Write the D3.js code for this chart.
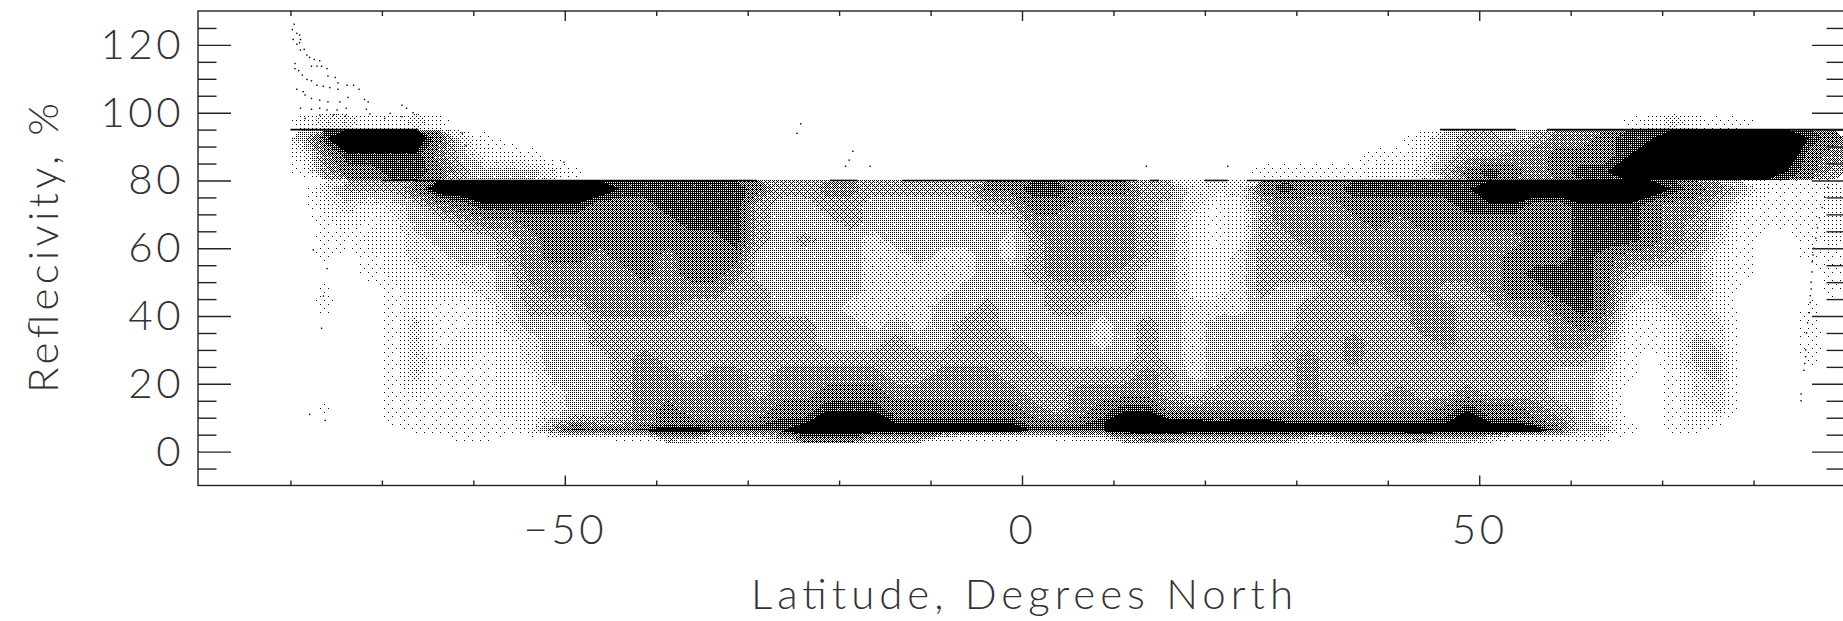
<!DOCTYPE html>
<html><head><meta charset="utf-8">
<style>
html,body{margin:0;padding:0;background:#fff;overflow:hidden}
svg{display:block}
text{font-family:"Lato","Open Sans",sans-serif;font-weight:300;fill:#333}
</style>
<script src="https://cdn.jsdelivr.net/npm/d3@7"></script>
</head><body>
<svg id="c" width="1843" height="621"></svg>
<script>
// Axis ticks and titles
const xMajor = [-50, 0, 50];
const xMinor = [-80, -70, -60, -40, -30, -20, -10, 10, 20, 30, 40, 60, 70, 80];
const yMajor = [0, 20, 40, 60, 80, 100, 120];
const yMinor = [-5, 5, 10, 15, 25, 30, 35, 45, 50, 55, 65, 70, 75, 85, 90, 95, 105, 110, 115, 125];
const xTitle = "Latitude, Degrees North";
const yTitle = "Reflecivity, %";

// The scatter holds far too many dots to transcribe, so its body is read off as
// a density table: one row per reflectivity band (lowest first), one digit per
// 2.5 degree latitude cell from -80 to 90 (0 = empty ... 9 = solid), grouped by 10 degrees.
const latStart = -80, latStep = 2.5;
const bandEdges = [2.5, 5, 7.5, 10, 15, 20, 25, 30, 35, 40, 45, 50, 55, 60, 65, 70, 75, 80, 85, 90, 95, 100];
const densityRows = [
/* 2.5-5  */ "0000 0001 1000 0011 5433 3477 7555 2111 0122 5665 5555 3355 5644 3111 1100 0000 0000",
/* 5-7.5  */ "0000 0111 1126 8778 9988 8899 9999 9999 8888 9999 9999 9999 9999 9997 4410 1100 0000",
/* 7.5-10 */ "0000 1111 1124 6556 7777 7889 9988 8888 7778 9999 8998 8888 8889 8876 4310 1210 0000",
/* 10-15  */ "0100 1111 1223 4456 7666 6778 8877 7777 6567 8866 6666 6666 6678 7765 4300 1230 0000",
/* 15-20  */ "0000 1211 1223 4456 6666 5667 7766 6666 5566 6654 5555 6555 6556 5554 4300 1330 0000",
/* 20-25  */ "0000 1311 1224 4456 6566 5666 6655 6665 5555 5653 4555 6555 5555 5554 4310 1340 0000",
/* 25-30  */ "0000 1322 1234 4456 5555 5555 5555 5555 5444 4543 4445 6565 5555 5555 5410 2440 0010",
/* 30-35  */ "0000 1312 2234 4555 5555 5554 4454 4555 4443 4543 4445 5565 5565 5556 6511 2430 0010",
/* 35-40  */ "0000 1311 2344 4555 5555 5554 4343 4554 4443 4543 4444 5555 5665 5556 7621 2330 0010",
/* 40-45  */ "0100 1211 2355 5666 6555 5444 3333 4454 4554 4443 3344 5555 5665 5667 8732 3320 0010",
/* 45-50  */ "0100 1222 3456 6666 6665 5444 4333 3444 4555 5442 2354 4555 6655 6778 8743 4420 0001",
/* 50-55  */ "0001 2233 3466 6667 6776 4444 4333 3344 5666 5442 2355 5566 6666 6788 8754 4421 0001",
/* 55-60  */ "0101 2334 4567 7677 6777 4444 4334 3343 5666 6542 2355 5666 6666 6777 8766 5421 0011",
/* 60-65  */ "0112 2344 4567 7777 7778 5454 4344 4443 5666 6542 1255 6666 6666 6677 8887 6531 0012",
/* 65-70  */ "0121 2445 6677 7777 7888 5444 5444 4444 6666 6542 1256 6667 6777 7777 8887 6541 1112",
/* 70-75  */ "0232 3467 8888 8777 8888 5445 5444 4455 7766 6543 1256 6677 7778 8877 8887 6642 1112",
/* 75-80  */ "0355 5799 9999 9988 8888 7556 6555 5577 8877 7553 3378 7788 8888 9999 9999 8764 2112",
/* 80-85  */ "1577 8875 4443 1000 0000 0000 0000 0000 0000 0000 0011 1112 2357 8767 8899 9999 9875",
/* 85-90  */ "2688 8864 2210 0000 0000 0000 0000 0000 0000 0000 0000 0001 1245 5667 7789 9999 9976",
/* 90-95  */ "4899 9973 1000 0000 0000 0000 0000 0000 0000 0000 0000 0000 0245 5456 6788 9999 9987",
/* 95-100 */ "2332 2320 0000 0000 0000 0000 0000 0000 0000 0000 0000 0000 0000 0000 0012 3211 0000"
];
// Rows that end on a hard clip (80 % and 95 %) are contoured apart so the edge stays sharp
const rowGroups = [[0, 17], [17, 20], [20, 21]];
const levelFraction = [0, .025, .06, .13, .24, .34, .45, .56, .74, 1];
const levelThreshold = [.5, 1.5, 2.5, 3.5, 4.5, 5.5, 6.5, 7.5, 8.1];

// Individually legible dots: the polar arcs above 95 %
const polarLat = [-79.6,-79.8,-79.3,-79,-79.7,-78.9,-79,-79.3,-78.9,-78.5,-78.2,-77.9,-77.4,-76.8,-77.7,-77.1,-76.6,-76,-79.5,-79.5,-79.1,-78.7,-78.2,-77.7,-77.1,-76.4,-75.7,-74.8,-73.8,-73.1,-72.5,-75.9,-75.1,-74.8,-78.6,-79.3,-78.4,-77.7,-76.8,-75.9,-74.6,-73.7,-71.9,-71.5,-71.7,-71.3,-67.8,-67.3,-66.6,-78.9,-77.7,-76.8,-76,-74.9,-73.9,-78.4,-76.8,-75.3,-74,-69.1,-67.8,-69.7];
const polarRef = [126.1,124.5,123.4,122.9,121.6,121.6,120.6,120.2,118.5,118.7,117,116.3,115.7,115.3,113.7,113.7,113.7,113,114.5,113,112.4,111.1,109.8,109.4,108.1,107.8,107.4,106.9,108.1,108.1,106.9,110.8,110.4,108.8,106.2,106.9,105.2,104.2,103.7,103.2,103.2,104.5,103.9,103.2,101,99.6,102.2,101.3,100,101.3,101,101.3,100.8,100.8,101.3,98.3,99.3,99.3,99,99.8,98.8,98.3];
// Isolated outliers
const strayLat = [-24.2,-24.6,-18.5,-18.9,-19.3,-16.6,13.6,22.5,-61.2,-60.8,-50.1,-76.4,-76.6,-77.9,-76.2,-77.5,-76];
const strayRef = [96.7,93.9,88.6,86,84.2,84.2,84.2,84.2,94,90.4,85.4,45.9,36.4,11,9.2,59.5,54];
// The thin arc near the right edge
const arcLat = [88.1,87.8,87.5,87.2,87,86.8,86.6,86.5,86.4,86.4,86.3,86.3,86.2,86.2,86.1,85.9,85.8,85.7,85.7,85.6,85.5,85.2,85.2];
const arcRef = [78,75,72,69,66,63,60,58,56,53,50,48,46,44,41,38,35,30,28,26,24,17,15];
// Saturated runs where the dots merge into a solid line: [from, to] latitude
const cap80 = [[-70,-29],[-21,-18],[-13.1,12.6],[14,15],[20,22.5],[24.6,65]];
const cap95 = [[-80,-66],[45.7,54],[57.4,90]];

const left = 198, top_ = 11, bottom = 485.5;
const x = d3.scaleLinear().domain([-90, 90]).range([199, 1845]);
const y = d3.scaleLinear().domain([-10, 130]).range([bottom, top_]);
const rowToRef = d3.scaleLinear().domain(bandEdges.map((_, i) => i)).range(bandEdges);
const svg = d3.select("#c");

// Ordered-dither tiles: a one-bit rendering of each density level.
// Each level's dots contain the previous level's, so contours can simply overlay.
function bayer(i, j, n) {
  if (n === 1) return 0;
  const h = n / 2, a = i >= h, b = j >= h;
  return 4 * bayer(i % h, j % h, h) + (a ? (b ? 1 : 3) : (b ? 2 : 0));
}
const defs = svg.append("defs");
levelFraction.forEach((f, lv) => {
  if (lv === 0 || f >= 1) return;
  const p = defs.append("pattern").attr("id", "lv" + lv)
    .attr("patternUnits", "userSpaceOnUse").attr("width", 16).attr("height", 16);
  for (let i = 0; i < 16; i++) for (let j = 0; j < 16; j++)
    if (bayer(i, j, 16) < f * 256)
      p.append("rect").attr("x", i).attr("y", j).attr("width", 1).attr("height", 1).attr("fill", "#000");
});

// Density surface, drawn as filled d3 contours of the table
const grid = densityRows.map(r => r.replace(/\s/g, "").split("").map(Number));
const nCols = grid[0].length;
rowGroups.forEach(([r0, r1]) => {
  const values = grid.slice(r0, r1).flat();
  const contours = d3.contours().size([nCols, r1 - r0]).thresholds(levelThreshold)(values);
  const path = d3.geoPath(d3.geoTransform({
    point(cx, cy) { this.stream.point(x(latStart + cx * latStep), y(rowToRef(cy + r0))); }
  }));
  svg.append("g").selectAll("path").data(contours).join("path")
    .attr("d", path)
    .attr("shape-rendering", "crispEdges")
    .attr("fill", (d, i) => i === 8 ? "#000" : `url(#lv${i + 1})`);
});

// Saturation lines
const caps = cap80.map(s => ({s, r: 80})).concat(cap95.map(s => ({s, r: 95})));
svg.append("g").selectAll("line").data(caps).join("line")
  .attr("x1", d => x(d.s[0])).attr("x2", d => x(d.s[1]))
  .attr("y1", d => y(d.r)).attr("y2", d => y(d.r))
  .attr("stroke", "#000").attr("stroke-width", 1.6);

// Individual dots
const dots = [];
[[polarLat, polarRef], [strayLat, strayRef], [arcLat, arcRef]].forEach(([la, re]) =>
  la.forEach((v, i) => dots.push([v, re[i]])));
svg.append("g").selectAll("rect").data(dots).join("rect")
  .attr("x", d => x(d[0]) - .7).attr("y", d => y(d[1]) - .7)
  .attr("width", 1.4).attr("height", 1.4).attr("fill", "#000");

// Frame
svg.append("rect").attr("x", left).attr("y", top_).attr("width", 1848 - left).attr("height", bottom - top_)
  .attr("fill", "none").attr("stroke", "#222").attr("stroke-width", 1.4);

function tidy(g) { g.select(".domain").remove(); g.selectAll("line").attr("stroke", "#222").attr("stroke-width", 1.4); }
const fmt = d => String(d).replace("-", "\u2212");

// X axes, ticks pointing inward on both sides
svg.append("g").attr("transform", `translate(0,${bottom})`)
  .call(d3.axisBottom(x).tickValues(xMajor).tickSizeInner(-10).tickSizeOuter(0).tickPadding(29).tickFormat(fmt))
  .call(tidy).call(g => g.selectAll("text").attr("class", "lab"));
svg.append("g").attr("transform", `translate(0,${bottom})`)
  .call(d3.axisBottom(x).tickValues(xMinor).tickSizeInner(-5).tickSizeOuter(0).tickFormat("")).call(tidy);
svg.append("g").attr("transform", `translate(0,${top_})`)
  .call(d3.axisTop(x).tickValues(xMajor).tickSizeInner(-10).tickSizeOuter(0).tickFormat("")).call(tidy);
svg.append("g").attr("transform", `translate(0,${top_})`)
  .call(d3.axisTop(x).tickValues(xMinor).tickSizeInner(-5).tickSizeOuter(0).tickFormat("")).call(tidy);

// Y axes
svg.append("g").attr("transform", `translate(${left},0)`)
  .call(d3.axisLeft(y).tickValues(yMajor).tickSizeInner(-33).tickSizeOuter(0).tickPadding(14).tickFormat(fmt))
  .call(tidy).call(g => g.selectAll("text").attr("class", "lab"));
svg.append("g").attr("transform", `translate(${left},0)`)
  .call(d3.axisLeft(y).tickValues(yMinor).tickSizeInner(-18.5).tickSizeOuter(0).tickFormat("")).call(tidy);
svg.append("g").attr("transform", `translate(1845,0)`)
  .call(d3.axisRight(y).tickValues(yMajor).tickSizeInner(-33).tickSizeOuter(0).tickFormat("")).call(tidy);
svg.append("g").attr("transform", `translate(1845,0)`)
  .call(d3.axisRight(y).tickValues(yMinor).tickSizeInner(-18.5).tickSizeOuter(0).tickFormat("")).call(tidy);

svg.selectAll("text.lab").style("font-family", '"Lato","Open Sans",sans-serif')
  .style("font-weight", 300).style("font-size", "42px").style("letter-spacing", "3.5px").attr("fill", "#333");

// Titles
svg.append("text").attr("x", 1022).attr("y", 609).attr("text-anchor", "middle")
  .attr("textLength", 542).attr("lengthAdjust", "spacing").style("font-size", "42px").text(xTitle);
svg.append("text").attr("transform", "translate(58,248) rotate(-90)").attr("text-anchor", "middle")
  .attr("textLength", 290).attr("lengthAdjust", "spacing").style("font-size", "42px").text(yTitle);
</script>
</body></html>
